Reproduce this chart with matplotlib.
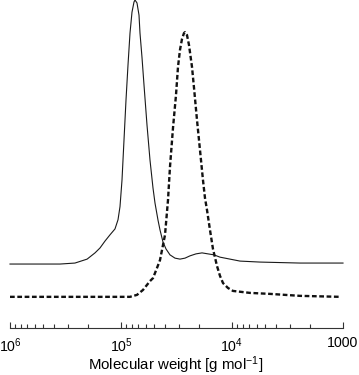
import matplotlib
matplotlib.use("Agg")
import matplotlib.pyplot as plt
from matplotlib.ticker import FixedLocator, LogLocator, NullFormatter

plt.rcParams['font.family'] = ['Liberation Sans', 'DejaVu Sans']
plt.rcParams['mathtext.fontset'] = 'custom'
plt.rcParams['mathtext.rm'] = 'Liberation Sans'
plt.rcParams['mathtext.it'] = 'Liberation Sans:italic'
plt.rcParams['mathtext.bf'] = 'Liberation Sans:bold'

# Solid curve: molecular weight [g/mol] and detector signal (arbitrary, % of max)
mw_solid = [1000000, 354000, 260000, 202000, 171500, 154600, 139400, 125700, 113300,
            106400, 102100, 97950, 93970, 90150, 86480, 82970, 79600, 76360, 74790,
            71760, 68840, 67430, 64690, 62060, 58320, 54800, 51500, 49400, 46420,
            44530, 41840, 39320, 36200, 32630, 29410, 26510, 23890, 21100, 18630,
            16450, 14530, 12830, 10420, 8470, 5595, 2440, 1000]
sig_solid = [19.5, 19.5, 19.8, 21.0, 22.9, 24.4, 26.5, 28.4, 30.2,
             33.0, 37.0, 45.1, 57.3, 69.5, 80.2, 89.9, 96.3, 99.4, 100.0,
             99.1, 95.4, 89.9, 82.5, 74.1, 61.9, 51.2, 42.7, 38.1, 32.9,
             29.9, 26.2, 24.1, 22.3, 21.3, 21.0, 21.3, 22.0, 22.6, 22.9,
             22.6, 22.3, 21.6, 21.0, 20.4, 20.1, 19.8, 19.8]

# Dashed curve
mw_dashed = [1000000, 82970, 71760, 63370, 54800, 51500, 47390, 44530, 41840,
             40130, 37720, 36200, 34010, 31960, 30660, 29410, 28220, 27070, 26510,
             25440, 24410, 22930, 21990, 20670, 19430, 18260, 17510, 16800, 15790,
             14840, 13650, 12830, 12050, 10870, 9795, 6884, 4547, 2440, 1064]
sig_dashed = [9.5, 9.5, 10.1, 11.6, 14.3, 15.2, 18.3, 20.7, 25.3,
              28.4, 39.0, 49.1, 61.0, 71.0, 79.6, 84.8, 88.1, 89.9, 90.2,
              89.3, 86.3, 79.6, 73.2, 63.4, 54.3, 45.1, 39.6, 36.0, 29.9,
              24.1, 18.9, 15.9, 13.7, 12.2, 11.3, 10.7, 10.4, 9.8, 9.5]

major_ticks = [1e6, 1e5, 1e4, 1e3]
major_labels = ['$10^6$', '$10^5$', '$10^4$', '1000']
xlabel = 'Molecular weight [g mol$^{-1}$]'

fig = plt.figure(figsize=(3.59, 3.75), dpi=100)
ax = fig.add_axes([10/359, 47/375, 333/359, 328/375])

ax.plot(mw_solid, sig_solid, color='#1a1a1a', lw=0.8, clip_on=False)
ax.plot(mw_dashed, sig_dashed, color='#111111', lw=1.7, dashes=(2.0, 1.1),
        clip_on=False)

ax.set_xscale('log')
ax.set_xlim(1e6, 1e3)
ax.set_ylim(0, 100)

for s in ['top', 'left', 'right']:
    ax.spines[s].set_visible(False)
ax.spines['bottom'].set_linewidth(0.8)
ax.spines['bottom'].set_color('#333333')

ax.xaxis.set_major_locator(FixedLocator(major_ticks))
ax.set_xticklabels(major_labels)
ax.xaxis.set_minor_locator(LogLocator(base=10, subs=range(2, 10)))
ax.xaxis.set_minor_formatter(NullFormatter())
ax.tick_params(axis='x', which='major', direction='in', length=4.5, width=0.8,
               color='#333333', pad=6, labelsize=10.2)
ax.tick_params(axis='x', which='minor', direction='in', length=2.8, width=0.8,
               color='#333333')
ax.set_yticks([])
fig.text(176/359, 4.5/375, xlabel, fontsize=10.8, ha='center', va='baseline')

fig.savefig('out.png', dpi=100)
